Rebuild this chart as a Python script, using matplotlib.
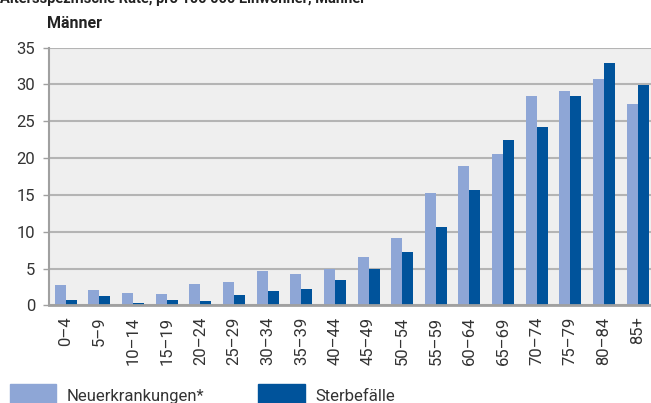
import numpy as np
import matplotlib
matplotlib.use('Agg')
import matplotlib.pyplot as plt
from matplotlib.patches import Rectangle

# Altersspezifische Rate, pro 100 000 Einwohner, Männer
altersgruppen = ['0–4', '5–9', '10–14', '15–19', '20–24', '25–29', '30–34',
                 '35–39', '40–44', '45–49', '50–54', '55–59', '60–64',
                 '65–69', '70–74', '75–79', '80–84', '85+']
neuerkrankungen = [2.8, 2.1, 1.7, 1.5, 2.9, 3.1, 4.6, 4.3, 5.0, 6.6, 9.1,
                   15.2, 18.9, 20.5, 28.4, 29.1, 30.7, 27.3]
sterbefaelle = [0.7, 1.2, 0.3, 0.7, 0.6, 1.4, 2.0, 2.2, 3.4, 5.0, 7.3,
                10.7, 15.6, 22.4, 24.2, 28.4, 32.9, 29.9]
yticks = [0, 5, 10, 15, 20, 25, 30, 35]

c_neu = '#8ea6d6'
c_tod = '#00539b'
c_grid = '#b4b4b4'
c_text = '#333333'

plt.rcParams['font.family'] = ['Roboto', 'DejaVu Sans']

fig = plt.figure(figsize=(6.51, 4.03), dpi=100)
ax = fig.add_axes([0.0753, 0.2424, 0.93, 0.6393])
ax.set_facecolor('#efefef')

x = np.arange(len(altersgruppen))
w = 0.327
ax.bar(x - w / 2, neuerkrankungen, width=w, color=c_neu, zorder=3)
ax.bar(x + w / 2, sterbefaelle, width=w, color=c_tod, zorder=3)

ax.set_xlim(-0.5, 17.5)
ax.set_ylim(0, 35)
ax.set_yticks(yticks)
ax.set_xticks(x)
ax.set_xticklabels(altersgruppen, rotation=90)
ax.yaxis.grid(True, color=c_grid, linewidth=1.5, zorder=0)
ax.set_axisbelow(True)

for s in ['top', 'right']:
    ax.spines[s].set_visible(False)
ax.spines['left'].set_color('#a0a0a0')
ax.spines['left'].set_linewidth(1.5)
ax.spines['bottom'].set_color('#a0a0a0')
ax.spines['bottom'].set_linewidth(2)
ax.spines['bottom'].set_zorder(4)

ax.tick_params(axis='y', length=4, width=1, color='#a0a0a0', labelsize=12,
               labelcolor=c_text, pad=6)
ax.tick_params(axis='x', length=0, labelsize=12, labelcolor=c_text, pad=8)

# Überschriften (obere Zeile ist im Original angeschnitten)
fig.text(0.0, 1 - 3 / 403, 'Altersspezifische Rate, pro 100 000 Einwohner, Männer',
         fontsize=10.5, fontweight='bold', color='#222222', va='baseline', ha='left')
fig.text(47 / 651, 1 - 28 / 403, 'Männer', fontsize=11.5, fontweight='bold',
         color='#222222', va='baseline', ha='left')

# Legende
H = 403.0
W = 651.0
fig.patches.append(Rectangle((10 / W, 0), 46 / W, (H - 384) / H,
                             transform=fig.transFigure, color=c_neu))
fig.text(67 / W, 1 - 401 / H, 'Neuerkrankungen*', fontsize=12, color=c_text,
         va='baseline', ha='left')
fig.patches.append(Rectangle((258 / W, 0), 47 / W, (H - 384) / H,
                             transform=fig.transFigure, color=c_tod))
fig.text(315 / W, 1 - 401 / H, 'Sterbefälle', fontsize=12, color=c_text,
         va='baseline', ha='left')

fig.savefig('out.png', dpi=100)
